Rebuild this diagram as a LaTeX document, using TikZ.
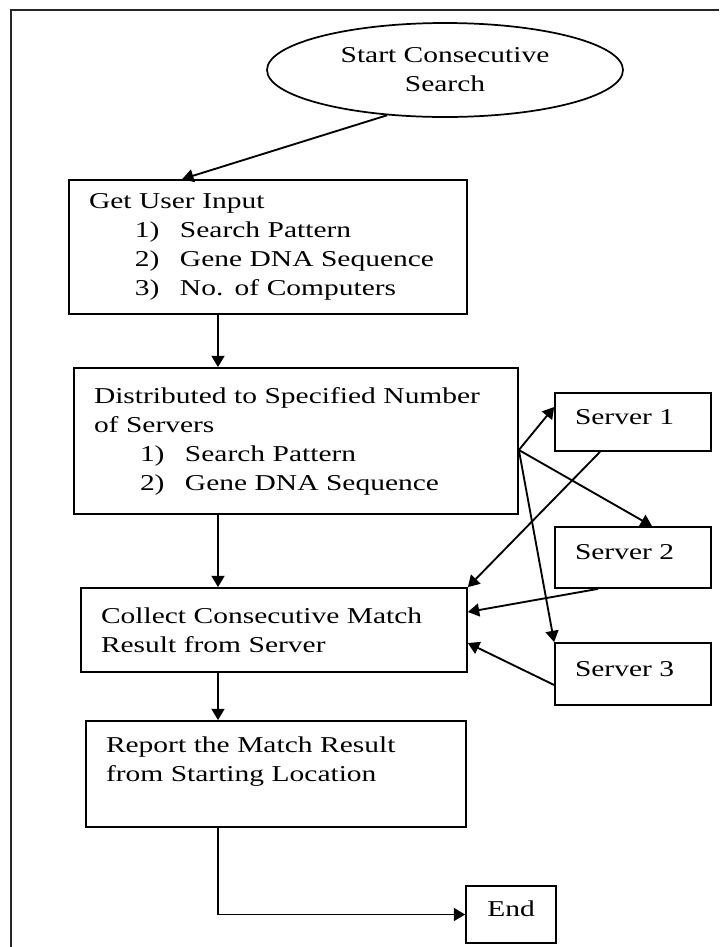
\documentclass[tikz,border=0pt]{standalone}
\usepackage{fontspec}
\setmainfont{Liberation Serif}[FakeStretch=1.3]
\usetikzlibrary{arrows.meta,calc,shapes.geometric}
\newdimen\pxu \pxu=0.75pt
\newcommand\itm[2]{\hspace*{46\pxu}\makebox[45\pxu][l]{#1}#2}
\begin{document}
\begin{tikzpicture}[x=0.75pt,y=-0.75pt,
  every node/.style={font=\fontsize{17pt}{21.75pt}\selectfont},
  box/.style={draw, line width=1.3pt, rectangle, align=left, inner xsep=15pt, inner ysep=1pt},
  srv/.style={box, minimum width=117pt, text width=87pt, text height=11.5pt, text depth=8pt},
  arr/.style={line width=1.4pt, -{Triangle[length=8.5pt,width=9.75pt]}},
  frame/.style={line width=1.1pt, draw=black!85}]
\useasboundingbox (0,0) rectangle (719,947);
\draw[frame] (11,947) -- (11,10) -- (719,10);

\node[draw, ellipse, line width=1.3pt, minimum width=267pt, minimum height=70.5pt, inner sep=0pt, align=center]
  (start) at (445,70) {Start Consecutive\\Search};

\node[box, minimum width=298.5pt, minimum height=100.5pt, text width=268.5pt] (in1) at (268,247)
  {Get User Input\\\itm{1)}{Search Pattern}\\\itm{2)}{Gene DNA Sequence}\\\itm{3)}{No. of Computers}};

\node[box, minimum width=333pt, minimum height=109.5pt, text width=303pt] (dist) at (296,441)
  {Distributed to Specified Number\\of Servers\\\itm{1)}{Search Pattern}\\\itm{2)}{Gene DNA Sequence}};

\node[box, minimum width=289.5pt, minimum height=63pt, text width=259.5pt] (coll) at (274,630)
  {Collect Consecutive Match\\Result from Server};

\node[box, minimum width=285pt, minimum height=79.5pt, text width=255pt] (rep) at (276,774)
  {Report the Match Result\\from Starting Location\\\mbox{}};

\node[srv, minimum height=43.5pt] (s1) at (633,422) {Server 1};
\node[srv, minimum height=45.75pt] (s2) at (633,557.5) {Server 2};
\node[srv, minimum height=46.5pt] (s3) at (633,674) {Server 3};

\node[draw, line width=1.3pt, minimum width=67.5pt, minimum height=42.75pt, inner sep=1pt, text height=11.5pt, text depth=8pt]
  (end) at (511,914.5) {End};

\coordinate (spine) at (218,0);
\coordinate (fan) at ($(dist.east)+(0,9)$);

\draw[arr] (start.218) -- ($(in1.north west)+(114,0)$);
\draw[arr] (in1.south -| spine) -- (dist.north -| spine);
\draw[arr] (dist.south -| spine) -- (coll.north -| spine);
\draw[arr] (coll.south -| spine) -- (rep.north -| spine);
\draw[arr] (rep.south -| spine) |- (end.west);

\draw[arr] (fan) -- ($(s1.west)+(0,-15)$);
\draw[arr] (fan) -- ($(s2.north)+(19,0)$);
\draw[arr] (fan) -- (s3.north west);

\draw[arr] ($(s1.south)+(-33,0)$) -- (coll.north east);
\draw[arr] ($(s2.south)+(-35,0)$) -- ($(coll.east)+(0,-18)$);
\draw[arr] ($(s3.west)+(0,11)$) -- ($(coll.east)+(0,13)$);
\end{tikzpicture}
\end{document}
